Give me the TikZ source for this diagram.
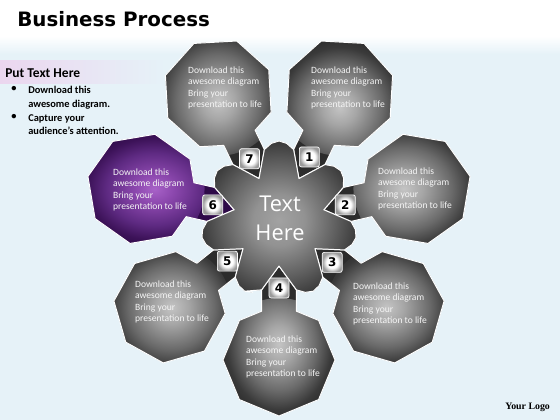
\documentclass[tikz,border=0pt]{standalone}
\usepackage{fontspec}
\setmainfont{Carlito}
\newfontfamily\titlefont{DejaVu Sans}
\newfontfamily\numfont{DejaVu Sans}
\newfontfamily\centerfont{Open Sans}
\newfontfamily\logofont{Liberation Serif}
\definecolor{bgblue}{HTML}{E6F2F8}
\definecolor{bandpink}{HTML}{EBD6EF}
\definecolor{gA}{HTML}{C4C4C4}
\definecolor{gB}{HTML}{A6A6A6}
\definecolor{gM}{HTML}{6A6A6A}
\definecolor{gD}{HTML}{3A3A3A}
\definecolor{gC}{HTML}{2C2C2C}
\definecolor{pA}{HTML}{A862C8}
\definecolor{pB}{HTML}{8C48AE}
\definecolor{pM}{HTML}{5E2A82}
\definecolor{pD}{HTML}{3C1258}
\definecolor{pC}{HTML}{2E0A48}
\definecolor{cA}{HTML}{A2A2A2}
\definecolor{cB}{HTML}{929292}
\definecolor{cM}{HTML}{5E5E5E}
\definecolor{cC}{HTML}{383838}
\definecolor{boxrim}{HTML}{9A9A9A}
\pgfdeclareradialshading{grayshade}{\pgfpoint{0bp}{0bp}}{color(0bp)=(gA); color(6bp)=(gB); color(15bp)=(gM); color(21bp)=(gD); color(25bp)=(gC); color(50bp)=(gC)}
\pgfdeclareradialshading{purpleshade}{\pgfpoint{0bp}{0bp}}{color(0bp)=(pA); color(6bp)=(pB); color(15bp)=(pM); color(21bp)=(pD); color(25bp)=(pC); color(50bp)=(pC)}
\pgfdeclareradialshading{gearshade}{\pgfpoint{0bp}{0bp}}{color(0bp)=(cA); color(8bp)=(cB); color(18bp)=(cM); color(25bp)=(cC); color(50bp)=(cC)}
\pgfdeclareradialshading{boxshade}{\pgfpoint{0bp}{0bp}}{color(0bp)=(white); color(14bp)=(white); color(25bp)=(boxrim); color(50bp)=(boxrim)}
\newcommand\drawpetal[3]{%
  \begin{scope}[rotate=#1]
    \path[fill=#3, draw=white, line width=0.7pt, line join=round,
      path picture={\shade[shading=#2] (140,0) circle (62);}]
      (46,0) -- (69.9,17.4) -- (91.2,17.4) -- (100.4,39.6) -- (140,56) -- (179.6,39.6)
      -- (196,0) -- (179.6,-39.6) -- (140,-56) -- (100.4,-39.6) -- (91.2,-17.4)
      -- (69.9,-17.4) -- cycle;
  \end{scope}}
\tikzset{
  numbox/.style={minimum size=0.5cm, inner sep=0pt, rounded corners=1.5pt,
    shading=boxshade, draw=white, line width=0.5pt,
    font=\numfont\bfseries\fontsize{8.5}{8.5}\selectfont, text=black},
  petaltext/.style={align=left, inner sep=0pt, text=white!96!black,
    font=\fontsize{6.8}{7.9}\selectfont},
  bullettext/.style={anchor=north west, align=left, inner sep=0pt,
    font=\bfseries\fontsize{7.4}{9.7}\selectfont, text=black}
}
\begin{document}
\begin{tikzpicture}[x=0.025cm, y=0.025cm]
\useasboundingbox (-279,-200) rectangle (281,220);
% background
\fill[bgblue] (-279,-200) rectangle (281,220);
\fill[white] (-279,184) rectangle (281,220);
\shade[top color=white, bottom color=bgblue] (-279,166) rectangle (281,184);
\shade[left color=bandpink, right color=bgblue] (-279,136) rectangle (-114,159);
% title and side text
\node[anchor=base west, inner sep=0pt, font=\titlefont\bfseries\fontsize{14.1}{17}\selectfont] (title) at (-262,193) {Business Process};
\node[anchor=base west, inner sep=0pt, font=\bfseries\fontsize{9.6}{11}\selectfont] (put) at (-274,142) {Put Text Here};
\node[bullettext] (b1) at (-251,134) {Download this\\awesome diagram.};
\node[bullettext] (b2) at (-251,106) {Capture your\\audience’s attention.};
\node[bullettext] (d1) at (-268,134) {•};
\node[bullettext] (d2) at (-268,106) {•};
\node[anchor=base west, inner sep=0pt, font=\logofont\bfseries\fontsize{7}{8}\selectfont] (logo) at (226,-190) {Your Logo};
% petals
\drawpetal{-90}{grayshade}{gC}
\drawpetal{-38.57}{grayshade}{gC}
\drawpetal{12.86}{grayshade}{gC}
\drawpetal{64.29}{grayshade}{gC}
\drawpetal{115.71}{grayshade}{gC}
\drawpetal{167.14}{purpleshade}{pC}
\drawpetal{218.57}{grayshade}{gC}
% central gear
\path[fill=cC, draw=white, line width=0.7pt, line join=round,
  path picture={\shade[shading=gearshade] (0,0) circle (80);}]
  (-115.7:79) \foreach \k in {0,...,6}{
    -- ({-90+51.43*\k-14}:72) -- ({-90+51.43*\k}:46) -- ({-90+51.43*\k+14}:72)
    -- ({-90+51.43*\k+20}:77) -- ({-90+51.43*\k+25.7}:79) -- ({-90+51.43*\k+31.4}:77) } -- cycle;
\node[align=center, inner sep=0pt, text=white, font=\centerfont\fontsize{15.5}{20.5}\selectfont] (ctr) at (1,2) {Text\\Here};
% number boxes
\node[numbox] (n4) at (-90:68) {4};
\node[numbox] (n3) at (-38.57:68) {3};
\node[numbox] (n2) at (12.86:68) {2};
\node[numbox] (n1) at (64.29:70) {1};
\node[numbox] (n7) at (115.71:68) {7};
\node[numbox] (n6) at (167.14:68) {6};
\node[numbox] (n5) at (218.57:66) {5};
% petal texts
\node[petaltext] (t7) at (-54,132) {Download this\\awesome diagram\\Bring your\\presentation to life};
\node[petaltext] (t1) at (69,132) {Download this\\awesome diagram\\Bring your\\presentation to life};
\node[petaltext] (t2) at (136,31) {Download this\\awesome diagram\\Bring your\\presentation to life};
\node[petaltext] (t3) at (111,-84) {Download this\\awesome diagram\\Bring your\\presentation to life};
\node[petaltext] (t4) at (4,-137) {Download this\\awesome diagram\\Bring your\\presentation to life};
\node[petaltext] (t5) at (-107,-82) {Download this\\awesome diagram\\Bring your\\presentation to life};
\node[petaltext] (t6) at (-129,30) {Download this\\awesome diagram\\Bring your\\presentation to life};
\end{tikzpicture}
\end{document}
